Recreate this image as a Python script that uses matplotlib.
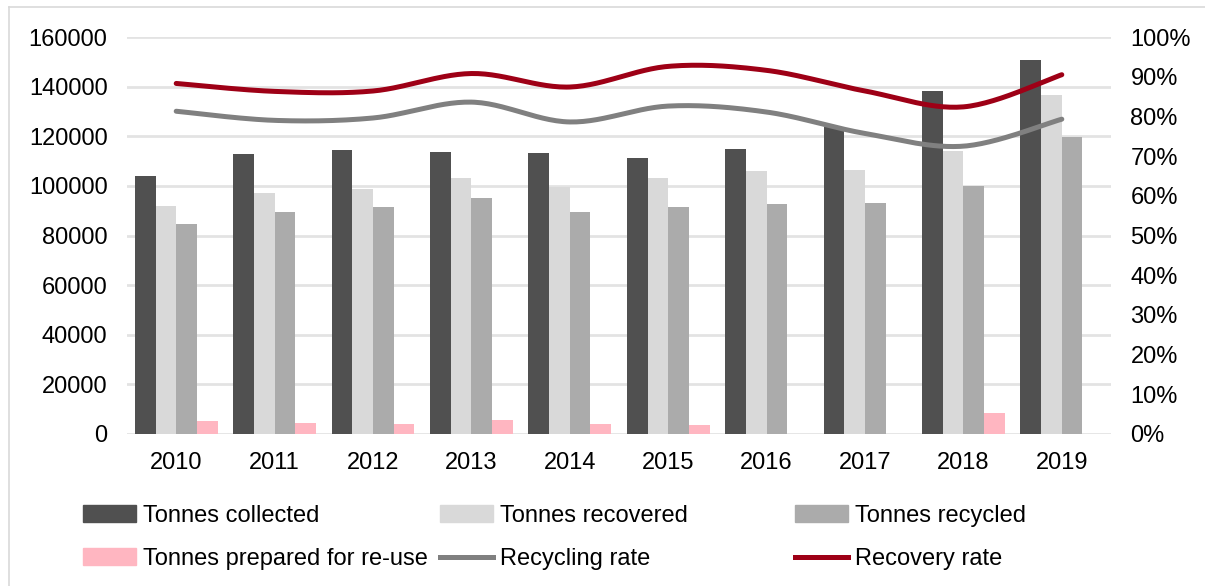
import numpy as np
import matplotlib
matplotlib.use("Agg")
import matplotlib.pyplot as plt
from matplotlib.patches import Patch
from matplotlib.lines import Line2D
from matplotlib.ticker import FixedLocator

plt.rcParams['font.family'] = ['Liberation Sans', 'DejaVu Sans']

years = ['2010', '2011', '2012', '2013', '2014', '2015', '2016', '2017', '2018', '2019']
tonnes_collected = [104000, 112900, 114400, 113600, 113400, 111300, 114800, 123800, 138100, 150900]
tonnes_recovered = [91800, 97000, 98700, 103100, 99600, 103000, 105900, 106300, 114200, 136800]
tonnes_recycled = [84600, 89400, 91300, 95000, 89300, 91500, 92500, 93000, 100100, 119700]
tonnes_reuse = [5300, 4300, 4000, 5500, 3900, 3500, 0, 0, 8300, 0]
recycling_rate = [0.813, 0.790, 0.796, 0.836, 0.786, 0.826, 0.811, 0.757, 0.725, 0.793]
recovery_rate = [0.883, 0.863, 0.864, 0.908, 0.874, 0.926, 0.916, 0.864, 0.824, 0.905]

left_ticks = [0, 20000, 40000, 60000, 80000, 100000, 120000, 140000, 160000]
right_ticks = [0, 0.1, 0.2, 0.3, 0.4, 0.5, 0.6, 0.7, 0.8, 0.9, 1.0]

c_collected = '#505050'
c_recovered = '#D9D9D9'
c_recycled = '#ABABAB'
c_reuse = '#FFB6C1'
c_recycling = '#808080'
c_recovery = '#9E0016'

W, H = 1205, 586
fig = plt.figure(figsize=(W / 100, H / 100), dpi=100)
ax = fig.add_axes([127 / W, 1 - 434 / H, (1111 - 127) / W, (434 - 37) / H])
ax2 = ax.twinx()

x = np.arange(len(years))
w = 0.21
ax.bar(x - 1.5 * w, tonnes_collected, w, color=c_collected, zorder=2)
ax.bar(x - 0.5 * w, tonnes_recovered, w, color=c_recovered, zorder=2)
ax.bar(x + 0.5 * w, tonnes_recycled, w, color=c_recycled, zorder=2)
ax.bar(x + 1.5 * w, tonnes_reuse, w, color=c_reuse, zorder=2)

ax.set_xlim(-0.5, len(years) - 0.5)
ax.set_ylim(0, 160000)
ax2.set_ylim(0, 1.0)
ax.yaxis.set_major_locator(FixedLocator(left_ticks))
ax.set_yticklabels([str(v) for v in left_ticks])
ax2.yaxis.set_major_locator(FixedLocator(right_ticks))
ax2.set_yticklabels([f'{int(round(v * 100))}%' for v in right_ticks])
ax.set_xticks(x)
ax.set_xticklabels(years)

fs = 17
ax.tick_params(axis='y', length=0, pad=14, labelsize=fs)
ax.tick_params(axis='x', length=0, pad=13, labelsize=fs)
ax2.tick_params(axis='y', length=0, pad=14, labelsize=fs)

ax.grid(axis='y', color='#E3E3E3', linewidth=2, zorder=0)
ax.set_axisbelow(True)
for a in (ax, ax2):
    for s in a.spines.values():
        s.set_visible(False)


def smooth(xs, ys, n=30):
    xs = np.asarray(xs, float)
    ys = np.asarray(ys, float)
    px = np.concatenate([[xs[0]], xs, [xs[-1]]])
    py = np.concatenate([[ys[0]], ys, [ys[-1]]])
    ox, oy = [], []
    t = np.linspace(0, 1, n)
    for i in range(1, len(px) - 2):
        p0 = np.array([px[i], py[i]])
        p3 = np.array([px[i + 1], py[i + 1]])
        p1 = p0 + (np.array([px[i + 1], py[i + 1]]) - np.array([px[i - 1], py[i - 1]])) / 6
        p2 = p3 - (np.array([px[i + 2], py[i + 2]]) - np.array([px[i], py[i]])) / 6
        b = ((1 - t) ** 3)[:, None] * p0 + (3 * (1 - t) ** 2 * t)[:, None] * p1 + \
            (3 * (1 - t) * t ** 2)[:, None] * p2 + (t ** 3)[:, None] * p3
        ox.extend(b[:, 0])
        oy.extend(b[:, 1])
    return np.array(ox), np.array(oy)


sx, sy = smooth(x, recycling_rate)
ax2.plot(sx, sy, color=c_recycling, lw=3.6, solid_capstyle='round', zorder=3)
sx, sy = smooth(x, recovery_rate)
ax2.plot(sx, sy, color=c_recovery, lw=3.6, solid_capstyle='round', zorder=3)

# legends
h_collected = Patch(color=c_collected)
h_recovered = Patch(color=c_recovered)
h_recycled = Patch(color=c_recycled)
h_reuse = Patch(color=c_reuse)
h_recycling = Line2D([], [], color=c_recycling, lw=3.6)
h_recovery = Line2D([], [], color=c_recovery, lw=3.6)

cols = [
    (83, [h_collected, h_reuse], ['Tonnes collected', 'Tonnes prepared for re-use']),
    (440, [h_recovered, h_recycling], ['Tonnes recovered', 'Recycling rate']),
    (795, [h_recycled, h_recovery], ['Tonnes recycled', 'Recovery rate']),
]
for xp, hs, ls in cols:
    fig.legend(hs, ls, loc='upper left', bbox_to_anchor=(xp / W, 1 - 505 / H),
               bbox_transform=fig.transFigure, frameon=False, fontsize=fs,
               borderpad=0, borderaxespad=0, handlelength=2.25, handletextpad=0.3,
               labelspacing=0.88, handleheight=0.7)

# chart-area border
fig.add_artist(Line2D([9 / W, 1], [1 - 7 / H, 1 - 7 / H], color='#D9D9D9', lw=1.2,
                      transform=fig.transFigure))
fig.add_artist(Line2D([9 / W, 9 / W], [0, 1 - 7 / H], color='#D9D9D9', lw=1.2,
                      transform=fig.transFigure))

fig.savefig('out.png', dpi=100)
